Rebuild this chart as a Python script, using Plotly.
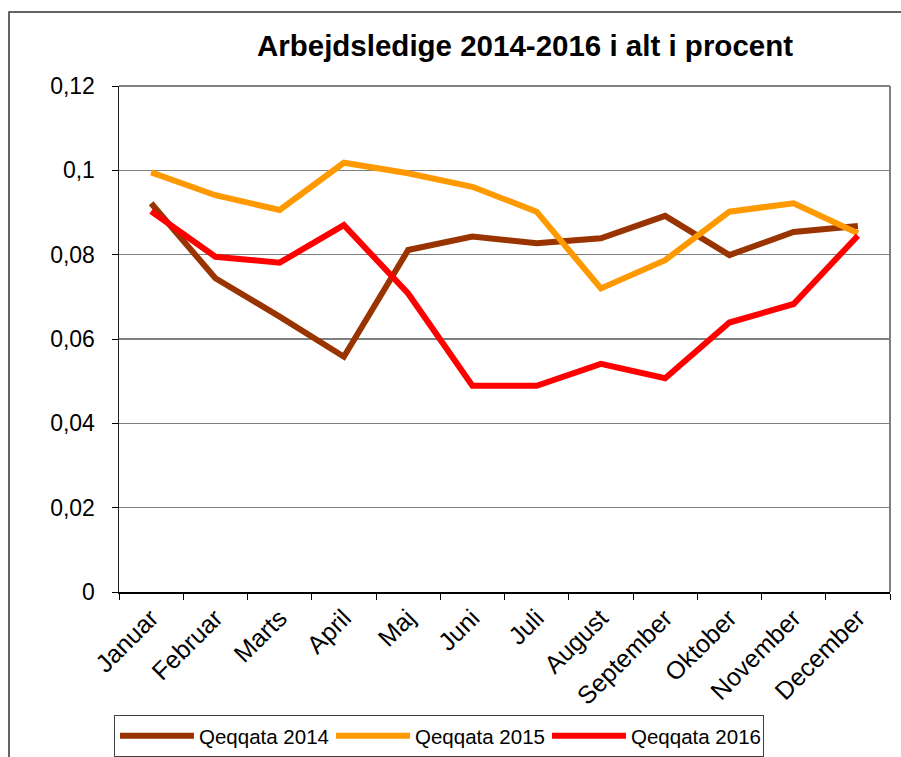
import plotly.graph_objects as go

months = ["Januar", "Februar", "Marts", "April", "Maj", "Juni", "Juli",
          "August", "September", "Oktober", "November", "December"]
q2014 = [0.0922, 0.0744, 0.0653, 0.0558, 0.0811, 0.0843, 0.0827, 0.0839, 0.0892, 0.0799, 0.0854, 0.0868]
q2015 = [0.0995, 0.0941, 0.0906, 0.1018, 0.0993, 0.0961, 0.0902, 0.0720, 0.0787, 0.0902, 0.0922, 0.0851]
q2016 = [0.0903, 0.0795, 0.0781, 0.0870, 0.0708, 0.0489, 0.0489, 0.0541, 0.0507, 0.0639, 0.0683, 0.0845]
series_names = ["Qeqqata 2014", "Qeqqata 2015", "Qeqqata 2016"]
colors = ["#993300", "#FF9900", "#FF0000"]
y_tickvals = [0, 0.02, 0.04, 0.06, 0.08, 0.1, 0.12]
y_ticktext = ["0", "0,02", "0,04", "0,06", "0,08", "0,1", "0,12"]
title_text = "Arbejdsledige 2014-2016 i alt i procent"

FONT = "Liberation Sans, Arial, sans-serif"

fig = go.Figure()
for name, vals, col in zip(series_names, [q2014, q2015, q2016], colors):
    fig.add_trace(go.Scatter(x=months, y=vals, name=name, mode="lines",
                             line=dict(color=col, width=6)))

fig.update_layout(
    width=901, height=757, autosize=False,
    margin=dict(l=119, r=11, t=86, b=165),
    paper_bgcolor="white", plot_bgcolor="white",
    font=dict(family=FONT, color="black"),
    title=dict(text="<b>" + title_text + "</b>", x=525/901, xref="container",
               xanchor="center", y=1 - 46/757, yref="container", yanchor="middle",
               font=dict(size=29.5, family=FONT, color="black")),
    showlegend=True,
    legend=dict(orientation="h", xref="container", yref="container",
                x=114/901, xanchor="left",
                y=1 - 715/757, yanchor="top",
                font=dict(size=20.5, family=FONT),
                bordercolor="#404040", borderwidth=1, bgcolor="white",
                itemwidth=74,
                entrywidth=127, entrywidthmode="pixels",
                traceorder="normal"),
    xaxis=dict(type="category", range=[-0.5, 11.5], showgrid=False,
               showline=True, linecolor="black", linewidth=1.5,
               ticks="outside", ticklen=6, tickcolor="black", tickwidth=1,
               tickson="boundaries", tickangle=-45, automargin=False,
               tickfont=dict(size=25, family=FONT, color="black")),
    yaxis=dict(range=[0, 0.12], tickvals=y_tickvals, ticktext=y_ticktext,
               showgrid=True, gridcolor="#7f7f7f", gridwidth=1.2,
               showline=True, linecolor="#222222", linewidth=1.5,
               ticks="outside", ticklen=6, tickcolor="black", tickwidth=1,
               ticklabelstandoff=12, zeroline=False, automargin=False,
               tickfont=dict(size=23, family=FONT, color="black")),
    shapes=[
        dict(type="line", xref="paper", yref="paper", x0=0, x1=1, y0=1, y1=1,
             line=dict(color="#808080", width=2)),
        dict(type="line", xref="paper", yref="paper", x0=1, x1=1, y0=0, y1=1,
             line=dict(color="#808080", width=2)),
        dict(type="rect", xref="paper", yref="paper",
             x0=(9-119)/771, x1=1.2, y0=-0.6, y1=(592-12)/506,
             line=dict(color="#333333", width=1.5), layer="below"),
    ],
)

fig.write_html("out.html",
               config={"responsive": False, "displayModeBar": False, "staticPlot": True},
               post_script="document.body.style.margin='0';document.body.style.overflow='hidden';")
